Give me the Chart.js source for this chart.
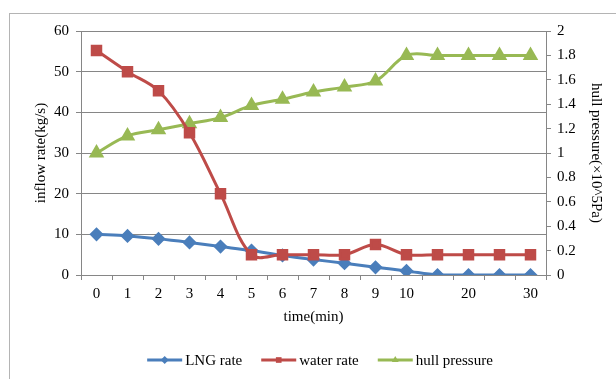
<!DOCTYPE html>
<html><head><meta charset="utf-8">
<script src="https://cdn.jsdelivr.net/npm/chart.js@4/dist/chart.umd.min.js"></script>
<style>html,body{margin:0;padding:0;background:#fff;}#wrap{width:616px;height:379px;position:relative;}</style>
</head><body><div id="wrap"><canvas id="c" width="616" height="379"></canvas></div>
<script>
const categories = ['0','1','2','3','4','5','6','7','8','9','10','','20','','30'];
const lngRate = [10, 9.6, 8.9, 8, 7, 6, 4.8, 3.8, 2.9, 1.9, 1, 0, 0, 0, 0];
const waterRate = [55.2, 50, 45.3, 35, 20, 5, 5, 5, 5, 7.5, 5, 5, 5, 5, 5];
const hullPressure = [1.0, 1.14, 1.19, 1.24, 1.29, 1.39, 1.44, 1.5, 1.54, 1.59, 1.8, 1.8, 1.8, 1.8, 1.8];
const leftTicks = [0, 10, 20, 30, 40, 50, 60];
const rightTicks = [0, 0.2, 0.4, 0.6, 0.8, 1, 1.2, 1.4, 1.6, 1.8, 2];

const FONT = 'Liberation Serif';
const BLUE = '#4a7ebb', RED = '#be4b48', GREEN = '#98b954';

const borderPlugin = {
  id: 'outerBorder',
  beforeDraw(chart) {
    const ctx = chart.ctx;
    ctx.save();
    ctx.strokeStyle = '#b4b4b4';
    ctx.lineWidth = 1;
    ctx.strokeRect(9.5, 13.5, 700, 500);
    ctx.restore();
  }
};

const legendPlugin = {
  id: 'customLegend',
  afterDraw(chart) {
    const ctx = chart.ctx;
    ctx.save();
    ctx.font = '15px "' + FONT + '"';
    ctx.textBaseline = 'middle';
    const lineW = 35, gap = 3, spacing = 19;
    const items = chart.data.datasets.map(ds => ({ds, w: ctx.measureText(ds.label).width}));
    const total = items.reduce((s, it) => s + lineW + gap + it.w, 0) + spacing * (items.length - 1);
    let x = 320 - total / 2;
    const y = 360;
    items.forEach(it => {
      const ds = it.ds;
      ctx.strokeStyle = ds.borderColor;
      ctx.lineWidth = 3;
      ctx.beginPath();
      ctx.moveTo(x, y); ctx.lineTo(x + lineW, y); ctx.stroke();
      ctx.fillStyle = ds.backgroundColor;
      Chart.helpers.drawPoint(ctx, {pointStyle: ds.pointStyle, radius: 4, rotation: 0, borderWidth: 0}, x + lineW / 2, y);
      ctx.fillStyle = '#000';
      ctx.fillText(ds.label, x + lineW + gap, y + 1);
      x += lineW + gap + it.w + spacing;
    });
    ctx.restore();
  }
};

new Chart(document.getElementById('c'), {
  type: 'line',
  data: {
    labels: categories,
    datasets: [
      {label: 'LNG rate', data: lngRate, yAxisID: 'y', borderColor: BLUE, backgroundColor: BLUE,
       pointStyle: 'rectRot', pointRadius: 5, borderWidth: 3, tension: 0.35, order: 2},
      {label: 'water rate', data: waterRate, yAxisID: 'y', borderColor: RED, backgroundColor: RED,
       pointStyle: 'rect', pointRadius: 6, borderWidth: 3, tension: 0.35, order: 0},
      {label: 'hull pressure', data: hullPressure, yAxisID: 'y1', borderColor: GREEN, backgroundColor: GREEN,
       pointStyle: 'triangle', pointRadius: 6, borderWidth: 3, tension: 0.35, order: 1}
    ]
  },
  options: {
    responsive: false,
    animation: false,
    layout: {padding: {top: 31, left: 0, right: 0, bottom: 0}},
    plugins: {legend: {display: false}, tooltip: {enabled: false}},
    elements: {point: {borderWidth: 0}},
    scales: {
      x: {
        offset: true,
        grid: {offset: true, drawOnChartArea: false, color: '#868686', tickLength: 5, tickColor: '#868686'},
        border: {color: '#868686'},
        ticks: {color: '#000', font: {family: FONT, size: 15}, padding: 5, autoSkip: false, maxRotation: 0},
        title: {display: true, text: 'time(min)', color: '#000', font: {family: FONT, size: 15}, padding: {top: 0, bottom: 53}},
        afterFit: s => { s.height = 104; }
      },
      y: {
        position: 'left', min: 0, max: 60,
        afterBuildTicks: s => { s.ticks = leftTicks.map(v => ({value: v})); },
        grid: {color: '#868686', tickLength: 5, tickColor: '#868686'},
        border: {color: '#868686'},
        ticks: {color: '#000', font: {family: FONT, size: 15}, padding: 7, callback: v => String(v)},
        title: {display: true, text: 'inflow rate(kg/s)', color: '#000', font: {family: FONT, size: 15}, padding: {top: 32, bottom: 0}},
        afterFit: s => { s.width = 81; }
      },
      y1: {
        position: 'right', min: 0, max: 2,
        afterBuildTicks: s => { s.ticks = rightTicks.map(v => ({value: v})); },
        grid: {drawOnChartArea: false, color: '#868686', tickLength: 5, tickColor: '#868686'},
        border: {color: '#868686'},
        ticks: {color: '#000', font: {family: FONT, size: 15}, padding: 6, callback: v => String(Math.round(v * 10) / 10)},
        title: {display: true, text: 'hull pressure(×10^5Pa)', color: '#000', font: {family: FONT, size: 15}, padding: {top: 11, bottom: 0}},
        afterFit: s => { s.width = 70; }
      }
    }
  },
  plugins: [borderPlugin, legendPlugin]
});
</script>
</body></html>
